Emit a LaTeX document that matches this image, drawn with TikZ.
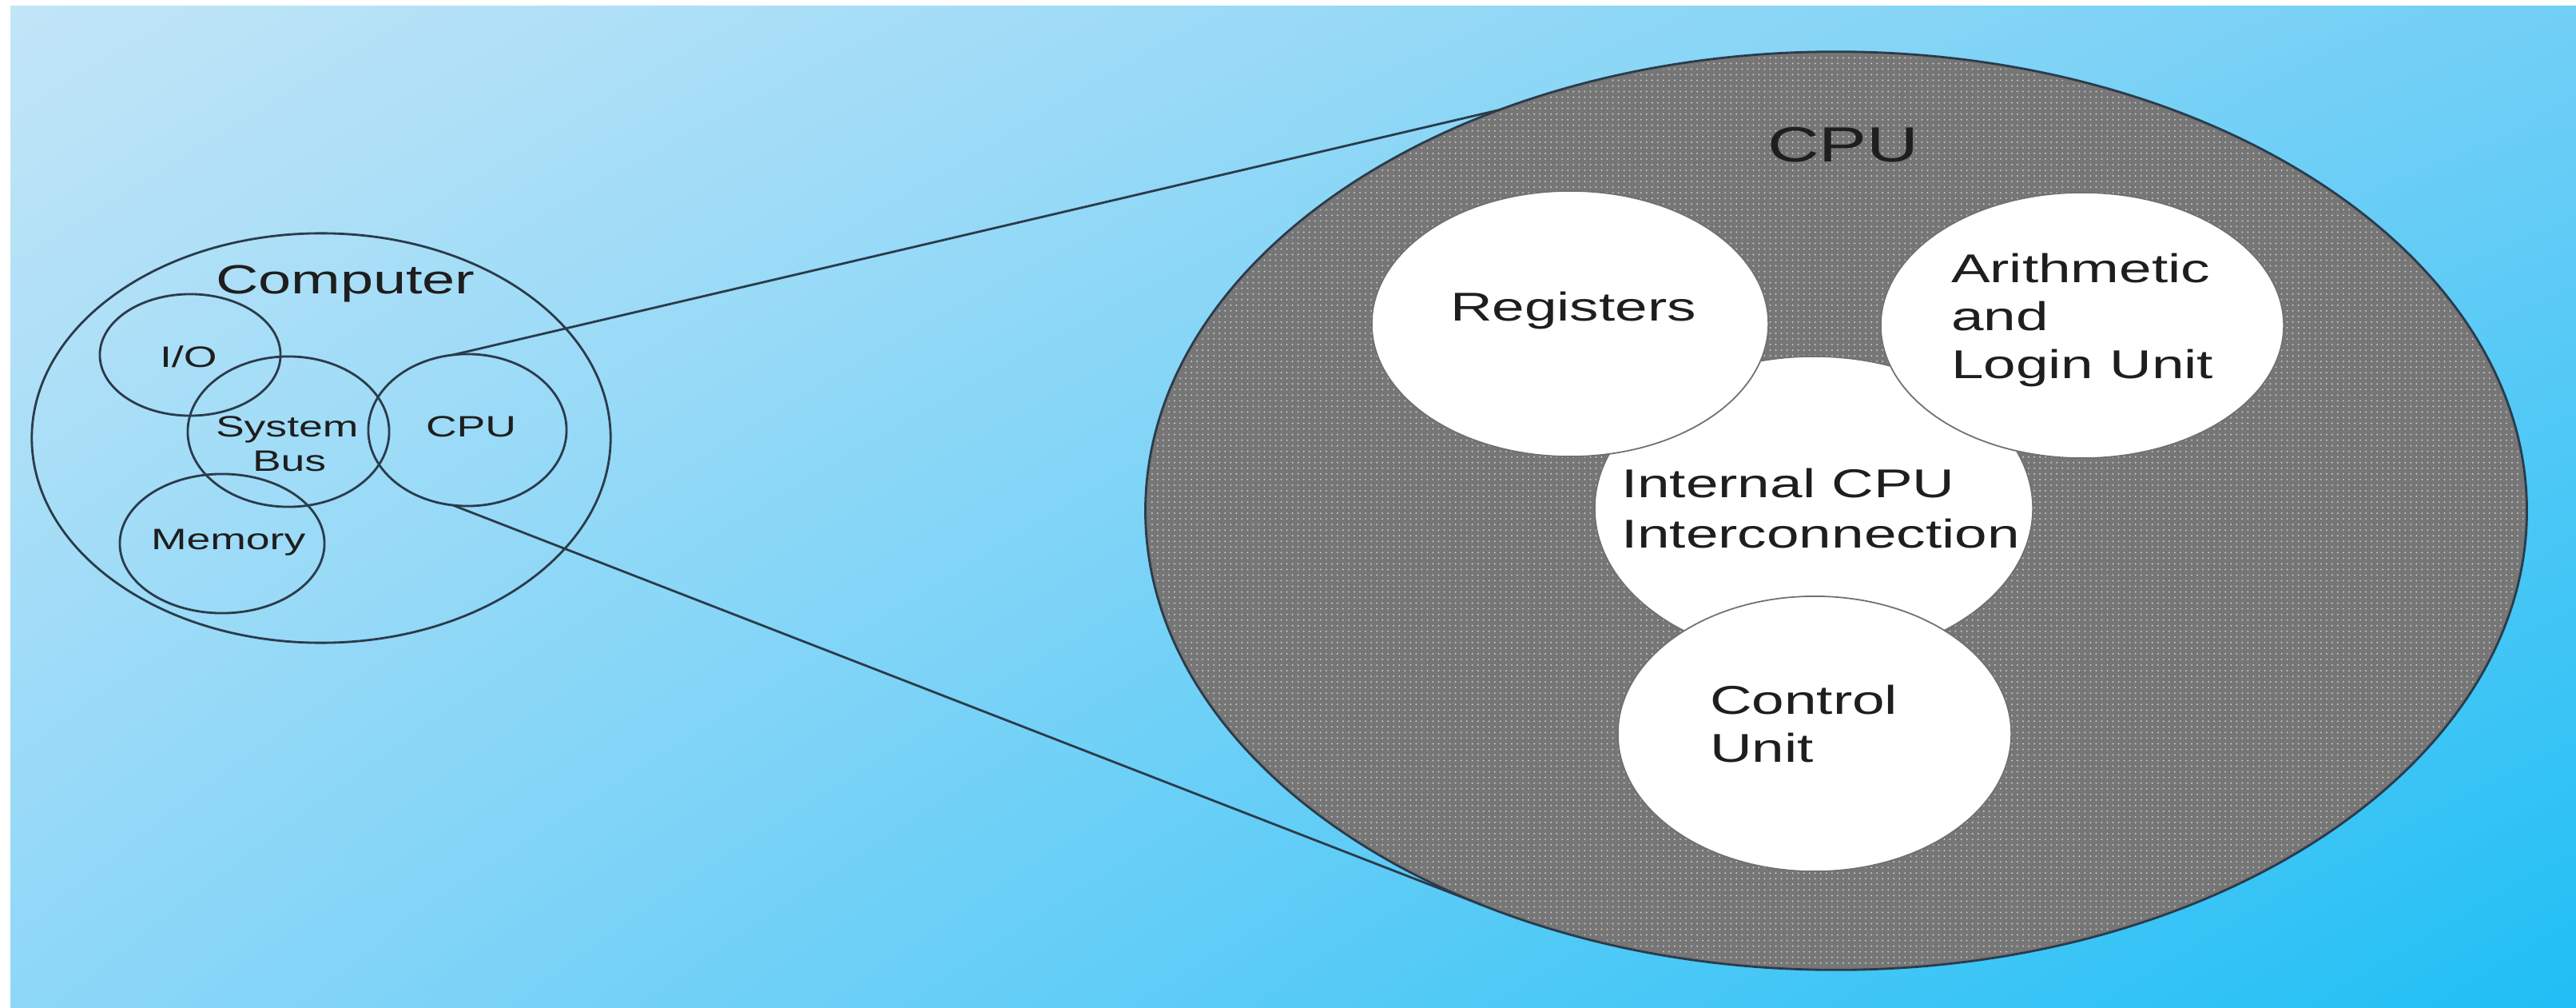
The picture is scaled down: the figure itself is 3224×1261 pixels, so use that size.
\documentclass[tikz,border=0pt]{standalone}
\usepackage{fontspec}
\setmainfont{Liberation Sans}
\usepackage{graphicx}
\usetikzlibrary{shapes.geometric,shadings,patterns.meta}
\definecolor{bgUL}{HTML}{C2E5F7}
\definecolor{bgUR}{HTML}{72CFF6}
\definecolor{bgLL}{HTML}{8ED7F8}
\definecolor{bgLR}{HTML}{20BFF5}
\definecolor{lineC}{HTML}{2B3B4B}
\definecolor{textC}{HTML}{1E1E1E}
\definecolor{cpuGray}{HTML}{767676}
\definecolor{dotC}{HTML}{C8C8C8}
\definecolor{rimC}{HTML}{707070}
\newcommand{\stretchx}[1]{\scalebox{1.45}[1]{#1}}
\tikzdeclarepattern{name=cpudots, type=uncolored,
  bottom left={(-1pt,-1pt)}, top right={(1pt,1pt)}, tile size={(2pt,2pt)},
  code={\fill (0pt,0pt) circle (0.32pt);}}
\begin{document}
\begin{tikzpicture}[x=0.01cm, y=-0.01cm,
  outline/.style={ellipse, draw=lineC, line width=0.8pt, inner sep=0pt, outer sep=0pt},
  whiteunit/.style={ellipse, fill=white, draw=rimC, line width=0.5pt, inner sep=0pt, outer sep=0pt},
  lbl/.style={inner sep=0pt, outer sep=0pt, anchor=base west, text=textC},
  innerfont/.style={font=\fontsize{14.3pt}{17.4pt}\selectfont},
  smallfont/.style={font=\fontsize{10.5pt}{12pt}\selectfont},
  conn/.style={draw=lineC, line width=0.8pt},
]
\useasboundingbox (0,0) rectangle (3224,1261);
\fill[white] (0,0) rectangle (3224,1261);
\shade[upper left=bgUL, upper right=bgUR, lower left=bgLL, lower right=bgLR] (13,8) rectangle (3224,1261);

% big CPU
\node[outline, fill=cpuGray, minimum width=17.28cm, minimum height=11.48cm] (big) at (2298,639) {};
\fill[pattern=cpudots, pattern color=dotC] (big.center) ellipse [x radius=8.6cm, y radius=5.7cm];
\node[whiteunit, minimum width=5.48cm, minimum height=3.80cm] (inter) at (2270,636) {};
\node[whiteunit, minimum width=4.96cm, minimum height=3.32cm] (reg) at (1965,405) {};
\node[whiteunit, minimum width=5.04cm, minimum height=3.32cm] (alu) at (2606,407) {};
\node[whiteunit, minimum width=4.92cm, minimum height=3.44cm] (ctrl) at (2271,918) {};

\node[lbl, font=\fontsize{17.6pt}{20pt}\selectfont] (bigLbl) at (2212,203) {\stretchx{CPU}};
\node[lbl, innerfont] (regLbl) at (1815,402) {\stretchx{Registers}};
\node[lbl, innerfont] (aluA) at (2442,354) {\stretchx{Arithmetic}};
\node[lbl, innerfont] (aluB) at (2442,414) {\stretchx{and}};
\node[lbl, innerfont] (aluC) at (2442,474) {\stretchx{Login Unit}};
\node[lbl, innerfont] (interA) at (2029,623) {\stretchx{Internal CPU}};
\node[lbl, innerfont] (interB) at (2029,685) {\stretchx{Interconnection}};
\node[lbl, innerfont] (ctrlA) at (2140,893) {\stretchx{Control}};
\node[lbl, innerfont] (ctrlB) at (2140,953) {\stretchx{Unit}};

% small computer diagram
\node[outline, minimum width=7.24cm, minimum height=5.12cm] (comp) at (402,548) {};
\node[outline, minimum width=2.26cm, minimum height=1.52cm] (io) at (238,444) {};
\node[outline, minimum width=2.52cm, minimum height=1.88cm] (bus) at (361,540) {};
\node[outline, minimum width=2.48cm, minimum height=1.90cm] (cpuS) at (585,538) {};
\node[outline, minimum width=2.56cm, minimum height=1.74cm] (mem) at (278,680) {};

\node[lbl, font=\fontsize{14.5pt}{17pt}\selectfont] (compLbl) at (270,368) {\stretchx{Computer}};
\node[lbl, smallfont] (ioLbl) at (200,460) {\stretchx{I/O}};
\node[lbl, smallfont] (busA) at (270,547) {\stretchx{System}};
\node[lbl, smallfont] (busB) at (316,590) {\stretchx{Bus}};
\node[lbl, smallfont] (cpuLbl) at (533,547) {\stretchx{CPU}};
\node[lbl, smallfont] (memLbl) at (189,687) {\stretchx{Memory}};

% zoom lines
\draw[conn] (cpuS.101) -- (big.130.3);
\draw[conn] (cpuS.259) -- (big.228.6);
\end{tikzpicture}
\end{document}
